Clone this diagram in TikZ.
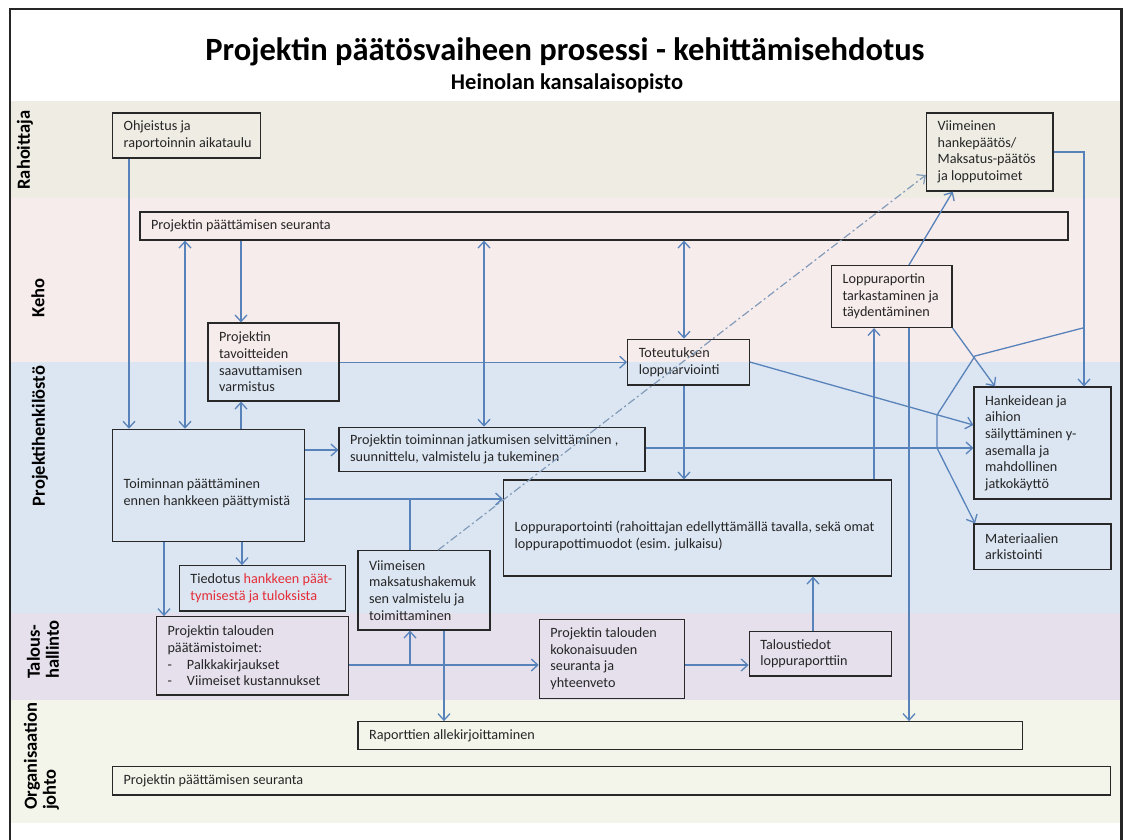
\documentclass[tikz,border=0pt]{standalone}
\usepackage{fontspec}
\setmainfont{Carlito}
\usetikzlibrary{arrows.meta}

\definecolor{laneA}{RGB}{238,236,227}
\definecolor{laneB}{RGB}{247,236,236}
\definecolor{laneC}{RGB}{220,230,242}
\definecolor{laneD}{RGB}{229,224,236}
\definecolor{laneE}{RGB}{243,245,235}
\definecolor{linec}{RGB}{88,130,186}
\definecolor{dashc}{RGB}{130,155,185}
\definecolor{boxc}{RGB}{40,40,40}
\definecolor{redtxt}{RGB}{228,45,55}

% box with left-aligned text: [text options]{name}{x1}{y1}{x2}{y2}{text}
\newcommand\bx[7][]{%
  \node[box, minimum width={#5-#3}, minimum height={#6-#4}] (#2) at ({(#3+#5)/2},{(#4+#6)/2}) {};
  \node[txt, anchor=west, #1] (#2-t) at ([xshift=11.5pt]#2.west) {#7};}

\begin{document}
\begin{tikzpicture}[x=1pt,y=-1pt,
  box/.style={draw=boxc, line width=1.2pt, inner sep=0pt},
  txt/.style={inner sep=0pt, align=left, text=black!85,
              font=\fontsize{14.2}{16.6}\selectfont},
  lanelbl/.style={inner sep=0pt, align=left, rotate=90,
              font=\bfseries\fontsize{18.5}{19}\selectfont},
  tip/.tip={Straight Barb[length=6.5pt,width=12pt]},
  conn/.style={draw=linec, line width=1.3pt, -tip},
  conn2/.style={draw=linec, line width=1.3pt, tip-tip},
  plain/.style={draw=linec, line width=1.3pt},
  dashdot/.style={draw=dashc, line width=1.2pt,
              dash pattern=on 8pt off 3pt on 2pt off 3pt, -tip},
]
\useasboundingbox (0,0) rectangle (1125,839);
\fill[white] (0,0) rectangle (1125,839);

% swim lanes
\fill[laneA] (10,101) rectangle (1121.5,198);
\fill[laneB] (10,198) rectangle (1121.5,362);
\fill[laneC] (10,362) rectangle (1121.5,613);
\fill[laneD] (10,613) rectangle (1121.5,700);
\fill[laneE] (10,700) rectangle (1121.5,823);

% outer frame, open at the bottom
\draw[line width=2.4pt, black!85] (10,840) -- (10,9) -- (1121.5,9) -- (1121.5,840);

% headings
\node[font=\bfseries\fontsize{32.5}{36}\selectfont] (title) at (565,52)
  {Projektin päätösvaiheen prosessi - kehittämisehdotus};
\node[font=\bfseries\fontsize{22.5}{26}\selectfont] (sub) at (567,83)
  {Heinolan kansalaisopisto};

% lane labels
\node[lanelbl] (lRah) at (25,150) {Rahoittaja};
\node[lanelbl] (lKeh) at (38,298) {Keho};
\node[lanelbl] (lPro) at (40,436) {Projektihenkilöstö};
\node[lanelbl, anchor=west] (lTal) at (43,679) {Talous-\\hallinto};
\node[lanelbl, anchor=west] (lOrg) at (41.5,810) {Organisaation\\johto};

% process boxes
\bx{ohj}{112.5}{113}{260.5}{158}{Ohjeistus ja\\raportoinnin aikataulu}
\bx{viim}{926.5}{113}{1053}{191}{Viimeinen\\hankepäätös/\\Maksatus-päätös\\ja lopputoimet}
\bx{seur}{140}{212}{1068}{240}{Projektin päättämisen seuranta}
\bx{tav}{208}{323}{339}{401}{Projektin\\tavoitteiden\\saavuttamisen\\varmistus}
\bx{lptark}{831.5}{265.5}{952}{327.5}{Loppuraportin\\tarkastaminen ja\\täydentäminen}
\bx{tot}{627.7}{339.3}{749.2}{385}{Toteutuksen\\loppuarviointi}
\bx{hank}{974}{387}{1111}{499}{Hankeidean ja\\aihion\\säilyttäminen y-\\asemalla ja\\mahdollinen\\jatkokäyttö}
\bx{mat}{974}{524}{1111}{569.5}{Materiaalien\\arkistointi}
\bx[yshift=-8pt]{toim}{112.5}{429.3}{304.6}{541.7}{Toiminnan päättäminen\\ennen hankkeen päättymistä}
\bx{jatk}{339}{427.3}{645}{471.7}{Projektin toiminnan jatkumisen selvittäminen ,\\suunnittelu, valmistelu ja tukeminen}
\bx[yshift=-8pt]{lpr}{503.6}{480}{891.5}{576}{Loppuraportointi (rahoittajan edellyttämällä tavalla, sekä omat\\loppurapottimuodot (esim. julkaisu)}
\bx{tied}{179.3}{565.7}{345.4}{611}{Tiedotus \textcolor{redtxt}{hankkeen päät-}\\\textcolor{redtxt}{tymisestä ja tuloksista}}
\bx{vmh}{358}{550.7}{490}{630}{Viimeisen\\maksatushakemuk\\sen valmistelu ja\\toimittaminen}
\bx{ptal}{156.4}{616.7}{348.2}{695}{Projektin talouden\\päätämistoimet:\\\makebox[19.5pt][l]{-}Palkkakirjaukset\\\makebox[19.5pt][l]{-}Viimeiset kustannukset}
\bx{pkok}{539.3}{619.3}{684.3}{698.3}{Projektin talouden\\kokonaisuuden\\seuranta ja\\yhteenveto}
\bx{talt}{749.2}{631.7}{891.5}{676}{Taloustiedot\\loppuraporttiin}
\bx{rap}{358}{721.7}{1022.3}{749.3}{Raporttien allekirjoittaminen}
\bx{oseur}{112.5}{766.7}{1110.6}{795}{Projektin päättämisen seuranta}

% connectors
\draw[conn]  (129,0 |- ohj.south) -- (129,0 |- toim.north);
\draw[conn2] (185,0 |- seur.south) -- (185,0 |- toim.north);
\draw[conn]  (241,0 |- seur.south) -- (241,0 |- tav.north);
\draw[conn]  (241,0 |- toim.north) -- (241,0 |- tav.south);
\draw[conn2] (484,0 |- seur.south) -- (484,0 |- jatk.north);
\draw[conn2] (684,0 |- seur.south) -- (684,0 |- tot.north);
\draw[conn]  (tav.east |- tot.west) -- (tot.west);
\draw[conn]  (toim.east |- 0,450) -- (jatk.west |- 0,450);
\draw[conn]  (toim.east |- 0,499) -- (lpr.west |- 0,499);
\draw[plain] (410,0 |- vmh.north) -- (410,499);
\draw[conn]  (164,0 |- toim.south) -- (164,0 |- ptal.north);
\draw[conn]  (242,0 |- toim.south) -- (242,0 |- tied.north);
\draw[conn]  (ptal.east |- 0,665) -- (pkok.west |- 0,665);
\draw[conn]  (410,665) -- (410,0 |- vmh.south);
\draw[conn]  (444,0 |- vmh.south) -- (444,0 |- rap.north);
\draw[conn]  (pkok.east |- 0,665) -- (talt.west |- 0,665);
\draw[conn]  (813,0 |- talt.north) -- (813,0 |- lpr.south);
\draw[conn]  (684,0 |- tot.south) -- (684,0 |- lpr.north);
\draw[conn]  (874,0 |- lpr.north) -- (874,0 |- lptark.south);
\draw[conn]  (909,0 |- lptark.south) -- (909,0 |- rap.north);
\draw[conn]  (909,0 |- lptark.north) -- (952.8,0 |- viim.south);
\draw[dashdot] (438,0 |- vmh.north) -- (viim.west |- 0,175);
\draw[conn]  (viim.east |- 0,152) -- (1084,152) -- (1084,0 |- hank.north);
\draw[conn]  (lptark.south east) -- (995,0 |- hank.north);
\draw[conn]  (1084,327.7) -- (975,356) -- (937,415) -- (937,448) -- (975,0 |- mat.north);
\draw[conn]  (tot.east |- 0,362) -- (hank.west |- 0,425);
\draw[conn]  (jatk.east |- 0,448) -- (hank.west |- 0,448);
\end{tikzpicture}
\end{document}
